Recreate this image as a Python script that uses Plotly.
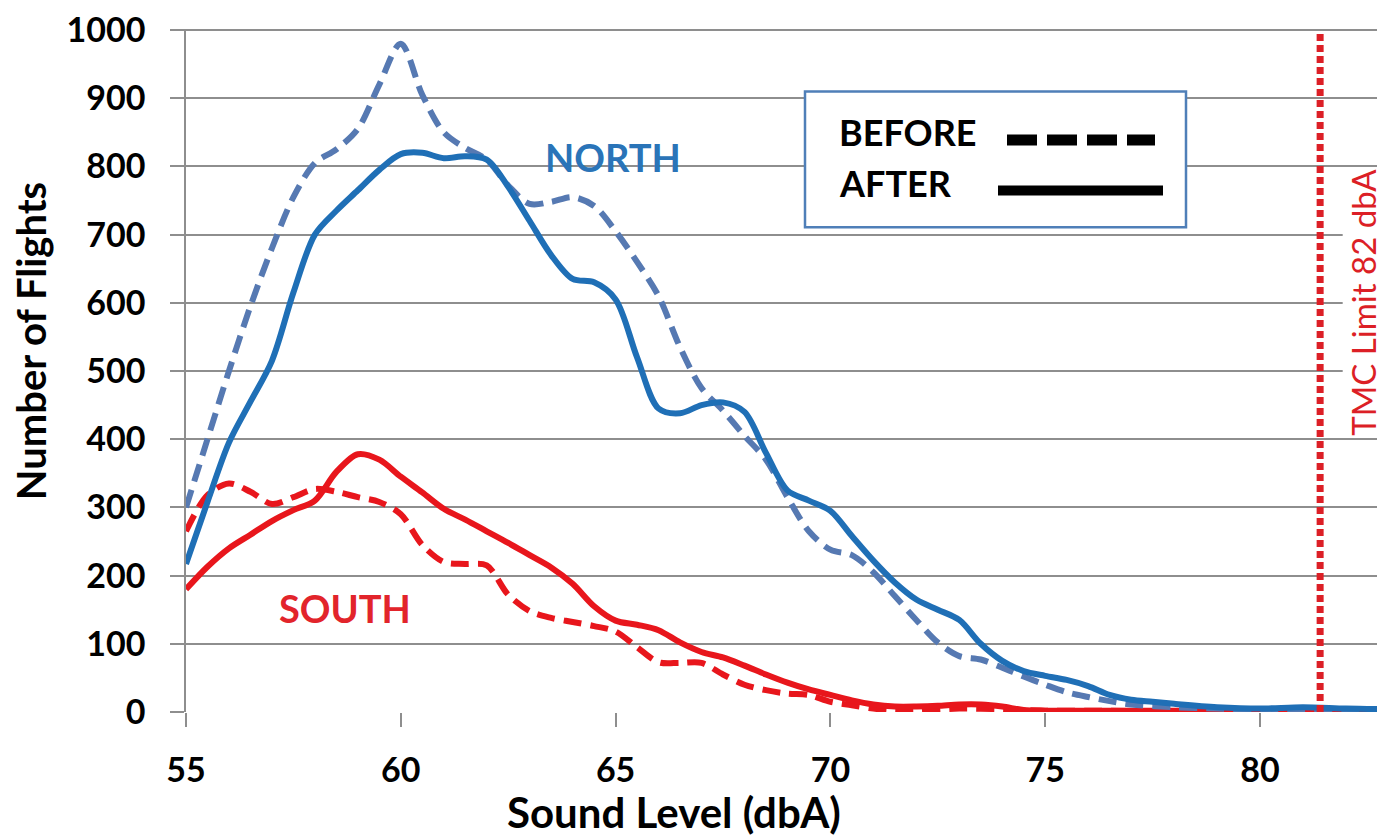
import plotly.graph_objects as go

# ---- Data ----
north_before_x = [55, 55.5, 56, 56.5, 57, 57.5, 58, 58.5, 59, 59.5, 60, 60.5, 61, 61.5, 62, 62.5, 63, 63.5, 64, 64.5,
                  65, 65.5, 66, 66.5, 67, 67.5, 68, 68.5, 69, 69.5, 70, 70.5, 71, 71.5, 72, 72.5, 73, 73.5, 74, 74.5,
                  75, 75.5, 76, 76.5, 77, 78, 79, 80, 81, 82, 83]
north_before_y = [300, 400, 500, 595, 680, 755, 805, 825, 855, 920, 980, 905, 850, 827, 810, 772, 745, 748, 755, 742,
                  705, 660, 610, 535, 475, 442, 405, 370, 315, 265, 238, 230, 205, 170, 135, 102, 82, 77, 65, 52,
                  40, 29, 22, 16, 11, 7, 5, 4, 4, 3, 3]

north_after_x = [55, 55.5, 56, 56.5, 57, 57.5, 58, 58.5, 59, 59.5, 60, 60.5, 61, 61.5, 62, 62.5, 63, 63.5, 64, 64.5,
                 65, 65.5, 66, 66.5, 67, 67.5, 68, 68.5, 69, 69.5, 70, 70.5, 71, 71.5, 72, 72.5, 73, 73.5, 74, 74.5,
                 75, 75.5, 76, 76.5, 77, 77.5, 78, 79, 80, 81, 82, 83]
north_after_y = [217, 308, 395, 455, 515, 615, 700, 735, 765, 795, 818, 820, 812, 815, 810, 770, 720, 670, 635, 630,
                 605, 520, 445, 438, 450, 454, 440, 380, 325, 310, 295, 258, 222, 190, 165, 150, 135, 100, 75, 60,
                 53, 47, 38, 25, 18, 15, 12, 7, 5, 7, 5, 4]

south_before_x = [55, 55.5, 56, 56.5, 57, 57.5, 58, 58.5, 59, 59.5, 60, 60.5, 61, 61.5, 62, 62.5, 63, 63.5, 64, 64.5,
                  65, 65.5, 66, 66.5, 67, 67.5, 68, 68.5, 69, 69.5, 70, 70.5, 71, 71.5, 72, 73, 74, 75, 76, 78, 80, 83]
south_before_y = [265, 318, 335, 323, 305, 315, 327, 323, 315, 308, 290, 245, 220, 217, 215, 172, 148, 138, 132, 126,
                  118, 95, 73, 72, 72, 55, 40, 32, 27, 25, 15, 10, 5, 2, 2, 5, 4, 2, 2, 1, 1, 1]

south_after_x = [55, 55.5, 56, 56.5, 57, 57.5, 58, 58.5, 59, 59.5, 60, 60.5, 61, 61.5, 62, 62.5, 63, 63.5, 64, 64.5,
                 65, 65.5, 66, 66.5, 67, 67.5, 68, 68.5, 69, 69.5, 70, 70.5, 71, 71.5, 72, 72.5, 73, 73.5, 74, 74.5,
                 75, 76, 78, 80, 83]
south_after_y = [180, 213, 240, 260, 280, 296, 310, 352, 378, 370, 345, 322, 298, 282, 265, 248, 230, 212, 188, 155,
                 134, 128, 120, 102, 88, 80, 68, 55, 43, 33, 25, 17, 11, 8, 8, 9, 11, 11, 8, 3,
                 2, 2, 2, 2, 2]

x_ticks = [55, 60, 65, 70, 75, 80]
y_ticks = [0, 100, 200, 300, 400, 500, 600, 700, 800, 900, 1000]
tmc_limit_x = 81.4
tmc_label = "TMC Limit 82 dbA"

# ---- Styles ----
BLUE_AFTER = "#1f6fb6"
BLUE_BEFORE = "#5679b2"
RED = "#e8161c"
TMC_RED = "#dc1f26"
GRID = "#8e8e8e"
FONT = "Lato"

# page has an 8px body margin: figure origin sits at (8, 8) in the window
OFF = 8
W, H = 1385 - OFF, 838 - OFF
PL, PR, PT, PB = 186, 1385, 23, 712   # plot area in window pixels

fig = go.Figure()

def add(x, y, color, dash, name):
    fig.add_trace(go.Scatter(
        x=x, y=y, mode="lines", name=name,
        line=dict(color=color, width=6, dash=dash, shape="spline", smoothing=0.9),
        showlegend=False, hoverinfo="x+y"))

add(south_before_x, south_before_y, RED, "18px,9px", "South before")
add(south_after_x, south_after_y, RED, "solid", "South after")
add(north_before_x, north_before_y, BLUE_BEFORE, "18px,9px", "North before")
add(north_after_x, north_after_y, BLUE_AFTER, "solid", "North after")

# TMC limit vertical dotted line
fig.add_trace(go.Scatter(
    x=[tmc_limit_x, tmc_limit_x], y=[0, 995], mode="lines",
    line=dict(color=TMC_RED, width=7, dash="7px,4px"),
    showlegend=False, hoverinfo="skip"))

fig.update_layout(
    width=W, height=H,
    margin=dict(l=PL - OFF, r=(1385 - OFF) - (PR - OFF), t=PT - OFF, b=H - (PB - OFF)),
    paper_bgcolor="white", plot_bgcolor="white",
    font=dict(family=FONT, color="black"),
    xaxis=dict(range=[55, 82.91], tickvals=x_ticks, showgrid=False, zeroline=False,
               showline=False, ticks="outside", ticklen=14, tickwidth=1.5, tickcolor=GRID,
               tickfont=dict(family=FONT, size=34, color="black", weight="bold"),
               ticklabelstandoff=14),
    yaxis=dict(range=[0, 1001.5], tickvals=y_ticks, showgrid=True, gridcolor=GRID, gridwidth=1.5,
               zeroline=False, showline=True, linecolor=GRID, linewidth=1.5,
               ticks="outside", ticklen=14, tickwidth=1.5, tickcolor=GRID,
               tickfont=dict(family=FONT, size=34, color="black", weight="bold"),
               ticklabelstandoff=18, ticklabeloverflow="allow"),
)

def px(xp):
    return (xp - PL) / (PR - PL)

def py(yp):
    return (PB - yp) / (PB - PT)

ann = []
# axis titles
ann.append(dict(text="Sound Level (dbA)", xref="paper", yref="paper", x=px(674), y=py(813),
                showarrow=False, font=dict(family=FONT, size=42, color="black", weight="bold"),
                xanchor="center", yanchor="middle"))
ann.append(dict(text="Number of Flights", xref="paper", yref="paper", x=px(31), y=py(338),
                showarrow=False, textangle=-90, font=dict(family=FONT, size=40, color="black", weight="bold"),
                xanchor="center", yanchor="middle"))
# series labels
ann.append(dict(text="NORTH", x=64.94, y=814, showarrow=False,
                font=dict(family=FONT, size=38, color="#2a74b8", weight="bold")))
ann.append(dict(text="SOUTH", x=58.7, y=153, showarrow=False,
                font=dict(family=FONT, size=38, color="#e2242b", weight="bold")))
# TMC label
ann.append(dict(text=tmc_label, xref="paper", x=px(1363), y=600, showarrow=False, textangle=-90,
                xanchor="center", bgcolor="white", borderpad=0,
                font=dict(family=FONT, size=33, color=TMC_RED)))

# legend box (drawn manually, symbol after text as in the reference)
shapes = [
    dict(type="rect", xref="paper", yref="paper", x0=px(805), x1=px(1186), y0=py(223), y1=py(86),
         line=dict(color="#4f7fb8", width=2.5), fillcolor="white", layer="above"),
    dict(type="line", xref="paper", yref="paper", x0=px(1007), x1=px(1155), y0=py(135), y1=py(135),
         line=dict(color="black", width=11, dash="30px,10px"), layer="above"),
    dict(type="line", xref="paper", yref="paper", x0=px(998), x1=px(1163), y0=py(186), y1=py(186),
         line=dict(color="black", width=10), layer="above"),
]
ann.append(dict(text="BEFORE", xref="paper", yref="paper", x=px(837), y=py(127), xanchor="left",
                yanchor="middle", showarrow=False, font=dict(family=FONT, size=36, color="black", weight="bold")))
ann.append(dict(text="AFTER", xref="paper", yref="paper", x=px(837), y=py(178), xanchor="left",
                yanchor="middle", showarrow=False, font=dict(family=FONT, size=36, color="black", weight="bold")))

fig.update_layout(annotations=ann, shapes=shapes)

fig.write_html("out.html")
